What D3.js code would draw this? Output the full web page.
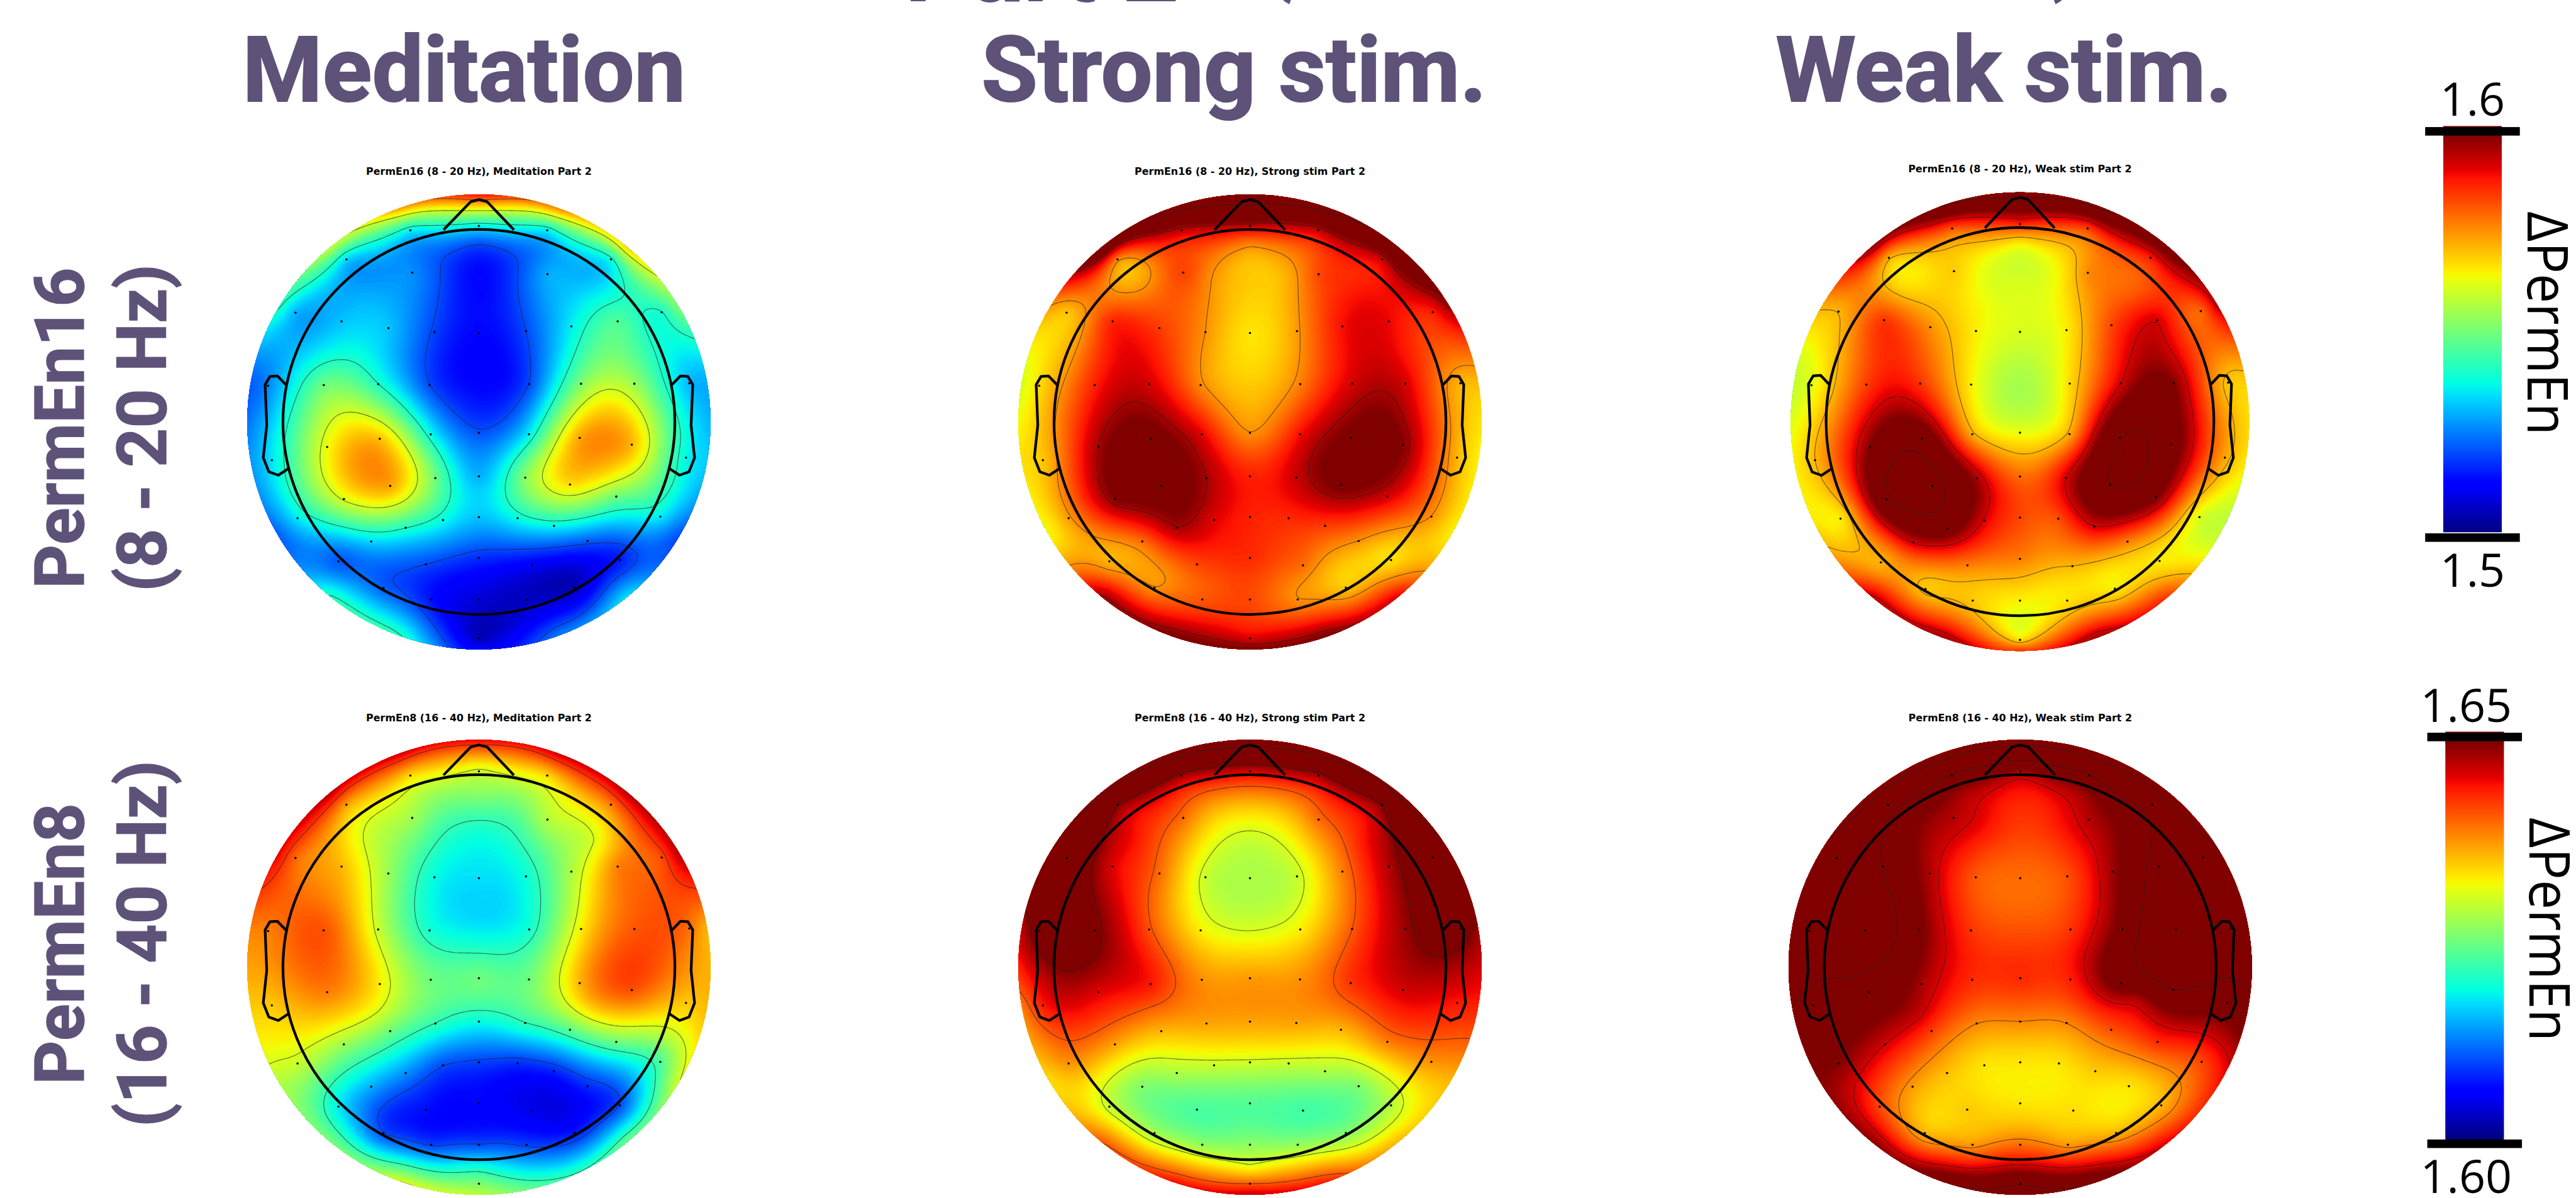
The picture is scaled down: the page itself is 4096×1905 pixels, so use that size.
<!DOCTYPE html>
<html>
<head>
<meta charset="utf-8">
<script src="https://cdn.jsdelivr.net/npm/d3@7"></script>
<style>
  html, body { margin: 0; padding: 0; background: #fff; overflow: hidden; }
  svg { display: block; }
</style>
</head>
<body>
<div id="chart"></div>
<script>
// Electrode positions, in head units (-1..1 across the painted disc)
const electrodeX = [-0.296,0,0.295,-0.572,-0.288,0.296,0.570,-0.792,-0.593,-0.391,-0.192,0,0.203,0.399,0.599,0.789,
  -0.910,-0.670,-0.435,-0.213,0.217,0.441,0.671,0.908,-0.428,-0.655,-0.208,0,0.216,0.435,0.660,-0.894,0.894,
  -0.188,0,0.200,-0.383,0.393,-0.583,0.593,-0.783,-0.155,0,0.167,0.783,-0.316,0.324,-0.465,0.469,-0.607,0.609,
  -0.229,0,0.229,-0.412,0.414,-0.206,0,0.206,0];
const electrodeY = [0.842,0.861,0.842,0.714,0.656,0.649,0.714,0.480,0.442,0.412,0.395,0.391,0.399,0.420,0.442,0.482,
  0.159,0.162,0.166,0.162,0.166,0.168,0.168,0.170,-0.074,-0.110,-0.055,-0.048,-0.054,-0.070,-0.100,-0.168,-0.157,
  -0.247,-0.239,-0.245,-0.281,-0.275,-0.339,-0.328,-0.423,-0.431,-0.418,-0.423,-0.416,-0.465,-0.457,-0.525,-0.523,-0.613,-0.607,
  -0.626,-0.598,-0.630,-0.729,-0.728,-0.780,-0.780,-0.780,-0.951];

// Values on the rim of the disc, clockwise from the nose
const rimAngles = [0,20,40,60,80,100,120,140,160,180,200,220,240,260,280,300,320,340];

// Extra read-off spots where no electrode sits (front midline, lobe centres)
const spotX = [0, 0, -0.18, 0.18, -0.44, 0.49, 0, -0.5, 0.5, 0];
const spotY = [0.78, 0.60, 0.64, 0.64, -0.2, -0.14, -0.87, 0.56, 0.56, 0.16];

// PermEn16 (8 - 20 Hz), colour range 1.5 - 1.6
const permEn16Meditation = [1.536,1.537,1.536,1.533,1.527,1.530,1.538,1.530,1.532,1.532,1.519,1.513,1.520,1.536,1.547,1.540,
  1.526,1.550,1.541,1.520,1.520,1.552,1.555,1.531,1.571,1.564,1.538,1.521,1.536,1.574,1.572,1.535,1.537,
  1.550,1.530,1.553,1.574,1.568,1.562,1.550,1.536,1.538,1.532,1.538,1.536,1.541,1.537,1.534,1.522,1.521,1.515,
  1.520,1.517,1.511,1.522,1.505,1.514,1.508,1.506,1.505];
const permEn16MeditationRim = [1.590,1.578,1.570,1.552,1.530,1.533,1.520,1.535,1.525,1.512,1.542,1.542,1.522,1.528,1.522,1.542,1.560,1.575];
const permEn16MeditationSpots = [1.520,1.513,1.521,1.521,1.577,1.576,1.506,1.530,1.536,1.513];

const permEn16Strong = [1.594,1.595,1.594,1.576,1.585,1.584,1.593,1.570,1.588,1.585,1.576,1.567,1.575,1.590,1.591,1.588,
  1.568,1.588,1.593,1.577,1.578,1.593,1.593,1.572,1.603,1.597,1.592,1.576,1.590,1.602,1.600,1.570,1.572,
  1.597,1.588,1.594,1.604,1.602,1.600,1.593,1.575,1.592,1.588,1.587,1.576,1.597,1.585,1.580,1.576,1.572,1.567,
  1.584,1.587,1.580,1.576,1.570,1.582,1.584,1.576,1.592];
const permEn16StrongRim = [1.630,1.625,1.618,1.598,1.572,1.566,1.566,1.592,1.602,1.602,1.602,1.598,1.565,1.568,1.562,1.575,1.615,1.625];
const permEn16StrongSpots = [1.577,1.570,1.577,1.574,1.605,1.604,1.586,1.577,1.590,1.570];

const permEn16Weak = [1.582,1.588,1.584,1.572,1.570,1.577,1.588,1.572,1.586,1.576,1.566,1.562,1.566,1.584,1.593,1.580,
  1.563,1.585,1.586,1.566,1.568,1.593,1.600,1.570,1.608,1.600,1.573,1.564,1.573,1.614,1.606,1.572,1.574,
  1.597,1.580,1.593,1.618,1.614,1.612,1.602,1.566,1.592,1.584,1.583,1.562,1.605,1.593,1.594,1.578,1.572,1.566,
  1.578,1.578,1.572,1.570,1.566,1.570,1.566,1.567,1.566];
const permEn16WeakRim = [1.620,1.618,1.608,1.595,1.570,1.567,1.560,1.586,1.598,1.588,1.598,1.595,1.570,1.566,1.560,1.573,1.600,1.615];
const permEn16WeakSpots = [1.566,1.562,1.564,1.566,1.618,1.616,1.563,1.570,1.582,1.556];

// PermEn8 (16 - 40 Hz), colour range 1.60 - 1.65
const permEn8Meditation = [1.634,1.630,1.634,1.637,1.628,1.629,1.639,1.640,1.636,1.6275,1.619,1.6175,1.6195,1.6285,1.639,1.6415,
  1.639,1.6415,1.630,1.620,1.620,1.633,1.641,1.640,1.633,1.639,1.625,1.625,1.625,1.636,1.6415,1.635,1.635,
  1.6215,1.619,1.6215,1.625,1.624,1.6275,1.625,1.630,1.610,1.6095,1.6085,1.623,1.6135,1.608,1.615,1.6085,1.618,1.610,
  1.607,1.6065,1.605,1.610,1.6075,1.6095,1.610,1.6095,1.626];
const permEn8MeditationRim = [1.646,1.647,1.648,1.648,1.636,1.636,1.631,1.625,1.6225,1.629,1.631,1.626,1.629,1.635,1.639,1.646,1.648,1.647];
const permEn8MeditationSpots = [1.6275,1.620,1.6235,1.6235,1.631,1.637,1.619,1.631,1.631,1.618];

const permEn8Strong = [1.6485,1.6465,1.6485,1.650,1.640,1.640,1.650,1.655,1.646,1.640,1.630,1.6285,1.630,1.639,1.648,1.656,
  1.6525,1.651,1.6415,1.633,1.633,1.641,1.649,1.6525,1.6445,1.646,1.638,1.6375,1.638,1.643,1.6465,1.6445,1.6445,
  1.637,1.637,1.637,1.636,1.636,1.637,1.639,1.638,1.630,1.6305,1.630,1.638,1.6285,1.6285,1.626,1.626,1.630,1.629,
  1.623,1.6235,1.6225,1.628,1.626,1.627,1.627,1.627,1.641];
const permEn8StrongRim = [1.665,1.664,1.6625,1.6585,1.649,1.644,1.636,1.636,1.644,1.6475,1.645,1.641,1.634,1.639,1.6475,1.656,1.6625,1.664];
const permEn8StrongSpots = [1.640,1.631,1.635,1.635,1.640,1.6425,1.631,1.645,1.645,1.631];

const permEn8Weak = [1.654,1.6485,1.654,1.6575,1.648,1.648,1.658,1.660,1.655,1.648,1.641,1.640,1.6415,1.649,1.657,1.661,
  1.657,1.659,1.651,1.643,1.643,1.6515,1.660,1.6575,1.6485,1.653,1.6435,1.6435,1.644,1.6525,1.655,1.654,1.652,
  1.6385,1.6385,1.6385,1.6425,1.6415,1.6465,1.6435,1.650,1.6335,1.6335,1.6335,1.642,1.6355,1.635,1.6375,1.6335,1.642,1.636,
  1.635,1.6335,1.634,1.636,1.636,1.6375,1.640,1.6375,1.655];
const permEn8WeakRim = [1.670,1.670,1.669,1.665,1.658,1.654,1.645,1.646,1.654,1.6575,1.654,1.650,1.650,1.655,1.660,1.664,1.669,1.670];
const permEn8WeakSpots = [1.645,1.6425,1.646,1.645,1.6475,1.6475,1.6465,1.6515,1.6525,1.6415];

// Labels
const columnNames = ['Meditation', 'Strong stim.', 'Weak stim.'];
const rowLines = [['PermEn16', '(8 - 20 Hz)'], ['PermEn8', '(16 - 40 Hz)']];
const panelTitles = [
  'PermEn16 (8 - 20 Hz), Meditation Part 2', 'PermEn16 (8 - 20 Hz), Strong stim Part 2', 'PermEn16 (8 - 20 Hz), Weak stim Part 2',
  'PermEn8 (16 - 40 Hz), Meditation Part 2', 'PermEn8 (16 - 40 Hz), Strong stim Part 2', 'PermEn8 (16 - 40 Hz), Weak stim Part 2'
];
const colorbarTicks = [['1.6', '1.5'], ['1.65', '1.60']];
const colorRanges = [[1.5, 1.6], [1.60, 1.65]];

// Contour levels drawn on each map
const levels = [
  [1.520, 1.541, 1.561, 1.580],
  [1.576, 1.597, 1.618],
  [1.572, 1.593, 1.614],
  [1.610, 1.6215, 1.631, 1.643],
  [1.631, 1.641, 1.650, 1.660],
  [1.6385, 1.6465, 1.655, 1.665]
];

// Head outline, same units as the electrodes
const noseX = [-0.153, -0.035, 0, 0.035, 0.151];
const noseY = [0.844, 0.968, 0.977, 0.968, 0.844];
const earX = [-0.834, -0.870, -0.902, -0.923, -0.916, -0.931, -0.907, -0.866, -0.824];
const earY = [0.164, 0.202, 0.200, 0.164, -0.014, -0.157, -0.219, -0.234, -0.206];
const headRadius = 0.846;

// Matplotlib jet
const jetStops = [0, 0.11, 0.125, 0.34, 0.35, 0.375, 0.64, 0.65, 0.66, 0.89, 0.91, 1];
const jetColors = ['rgb(0,0,128)', 'rgb(0,0,255)', 'rgb(0,0,255)', 'rgb(0,219,255)', 'rgb(0,230,247)', 'rgb(0,255,226)',
  'rgb(238,255,8)', 'rgb(247,246,0)', 'rgb(255,236,0)', 'rgb(255,19,0)', 'rgb(232,0,0)', 'rgb(128,0,0)'];
const jet = d3.scaleLinear().domain(jetStops).range(jetColors).clamp(true);

// Drawn in reference pixels, the viewBox brings it down to the window
const WIDTH = 4843, HEIGHT = 2253;
const TITLE_COLOR = '#5e5279';
const svg = d3.select('#chart').append('svg')
  .attr('width', 4096)
  .attr('height', 1905)
  .attr('viewBox', `0 0 ${WIDTH} ${HEIGHT}`);

const panels = [
  { values: permEn16Meditation, rim: permEn16MeditationRim, spots: permEn16MeditationSpots, row: 0, cx: 900, cy: 793.5, rx: 435.6, ry: 428, titleY: 329 },
  { values: permEn16Strong, rim: permEn16StrongRim, spots: permEn16StrongSpots, row: 0, cx: 2350, cy: 793.5, rx: 435.6, ry: 428, titleY: 329 },
  { values: permEn16Weak, rim: permEn16WeakRim, spots: permEn16WeakSpots, row: 0, cx: 3798, cy: 793, rx: 431, ry: 431.5, titleY: 324 },
  { values: permEn8Meditation, rim: permEn8MeditationRim, spots: permEn8MeditationSpots, row: 1, cx: 900, cy: 1819, rx: 435.6, ry: 428, titleY: 1356 },
  { values: permEn8Strong, rim: permEn8StrongRim, spots: permEn8StrongSpots, row: 1, cx: 2350, cy: 1819, rx: 435.6, ry: 428, titleY: 1356 },
  { values: permEn8Weak, rim: permEn8WeakRim, spots: permEn8WeakSpots, row: 1, cx: 3798.5, cy: 1819, rx: 435.6, ry: 428, titleY: 1356 }
];

// Thin plate spline through the read values, solved once per map
const rimX = rimAngles.map(a => Math.sin(a * Math.PI / 180));
const rimY = rimAngles.map(a => Math.cos(a * Math.PI / 180));
const nodeX = electrodeX.concat(rimX, spotX);
const nodeY = electrodeY.concat(rimY, spotY);
const SMOOTHING = 0.0015;

function kernel(r2) {
  return r2 > 1e-12 ? 0.5 * r2 * Math.log(r2) : 0;
}

function solve(A, b) {
  const n = b.length;
  for (let i = 0; i < n; i++) {
    let p = i;
    for (let k = i + 1; k < n; k++) if (Math.abs(A[k][i]) > Math.abs(A[p][i])) p = k;
    [A[i], A[p]] = [A[p], A[i]];
    [b[i], b[p]] = [b[p], b[i]];
    for (let k = i + 1; k < n; k++) {
      const f = A[k][i] / A[i][i];
      if (f === 0) continue;
      for (let j = i; j < n; j++) A[k][j] -= f * A[i][j];
      b[k] -= f * b[i];
    }
  }
  for (let i = n - 1; i >= 0; i--) {
    for (let j = i + 1; j < n; j++) b[i] -= A[i][j] * b[j];
    b[i] /= A[i][i];
  }
  return b;
}

function fitField(values) {
  const n = nodeX.length;
  const A = d3.range(n + 3).map(() => new Array(n + 3).fill(0));
  for (let i = 0; i < n; i++) {
    for (let j = 0; j < n; j++) {
      const dx = nodeX[i] - nodeX[j], dy = nodeY[i] - nodeY[j];
      A[i][j] = kernel(dx * dx + dy * dy);
    }
    A[i][i] = SMOOTHING;
    A[i][n] = A[n][i] = 1;
    A[i][n + 1] = A[n + 1][i] = nodeX[i];
    A[i][n + 2] = A[n + 2][i] = nodeY[i];
  }
  return solve(A, values.concat([0, 0, 0]));
}

const GRID = 220;
const gridCoord = d3.scaleLinear().domain([0, GRID - 1]).range([-1.03, 1.03]);

function fieldGrid(w) {
  const n = nodeX.length;
  const grid = new Float64Array(GRID * GRID);
  for (let gy = 0; gy < GRID; gy++) {
    const y = -gridCoord(gy);
    for (let gx = 0; gx < GRID; gx++) {
      const x = gridCoord(gx);
      let v = w[n] + w[n + 1] * x + w[n + 2] * y;
      for (let i = 0; i < n; i++) {
        const dx = x - nodeX[i], dy = y - nodeY[i];
        v += w[i] * kernel(dx * dx + dy * dy);
      }
      grid[gy * GRID + gx] = v;
    }
  }
  return grid;
}

const contours = d3.contours().size([GRID, GRID]).smooth(true);

panels.forEach((p, idx) => {
  const [lo, hi] = colorRanges[p.row];
  const colorOf = d3.scaleLinear().domain([lo, hi]).range([0, 1]).clamp(true);
  const x = d3.scaleLinear().domain([-1, 1]).range([p.cx - p.rx, p.cx + p.rx]);
  const y = d3.scaleLinear().domain([-1, 1]).range([p.cy + p.ry, p.cy - p.ry]);

  const grid = fieldGrid(fitField(p.values.concat(p.rim, p.spots)));

  // contour coordinates carry a half cell offset
  const path = d3.geoPath(d3.geoTransform({
    point(px, py) {
      this.stream.point(x(gridCoord(px - 0.5)), y(-gridCoord(py - 0.5)));
    }
  }));

  const g = svg.append('g').attr('class', 'panel');
  const clipId = `disc-${idx}`;
  g.append('clipPath').attr('id', clipId)
    .append('ellipse')
    .attr('cx', p.cx).attr('cy', p.cy).attr('rx', p.rx).attr('ry', p.ry);

  const map = g.append('g').attr('clip-path', `url(#${clipId})`);
  map.append('ellipse')
    .attr('cx', p.cx).attr('cy', p.cy).attr('rx', p.rx).attr('ry', p.ry)
    .attr('fill', jet(0));

  map.selectAll('path.fill')
    .data(contours.thresholds(d3.range(0, 181).map(i => lo + (hi - lo) * i / 180))(grid))
    .enter().append('path')
    .attr('class', 'fill')
    .attr('d', path)
    .attr('fill', d => jet(colorOf(d.value)));

  map.selectAll('path.level')
    .data(contours.thresholds(levels[idx])(grid))
    .enter().append('path')
    .attr('class', 'level')
    .attr('d', path)
    .attr('fill', 'none')
    .attr('stroke', '#222')
    .attr('stroke-opacity', 0.65)
    .attr('stroke-width', 1.3);

  // Electrodes
  g.selectAll('circle.electrode')
    .data(electrodeX.map((ex, i) => [ex, electrodeY[i]]))
    .enter().append('circle')
    .attr('class', 'electrode')
    .attr('cx', d => x(d[0]))
    .attr('cy', d => y(d[1]))
    .attr('r', 2.1)
    .attr('fill', '#000');

  // Head, nose and ears
  const outline = d3.line().x(d => x(d[0])).y(d => y(d[1]));
  const head = g.append('g')
    .attr('fill', 'none')
    .attr('stroke', '#000')
    .attr('stroke-width', 5)
    .attr('stroke-linejoin', 'round');
  head.append('ellipse')
    .attr('cx', x(0)).attr('cy', y(0))
    .attr('rx', x(headRadius) - x(0))
    .attr('ry', y(0) - y(headRadius));
  head.append('path').attr('d', outline(noseX.map((n, i) => [n, noseY[i]])));
  head.append('path').attr('d', outline(earX.map((n, i) => [n, earY[i]])));
  head.append('path').attr('d', outline(earX.map((n, i) => [-n, earY[i]])));

  // Small matplotlib title
  g.append('text')
    .attr('x', p.cx)
    .attr('y', p.titleY)
    .attr('text-anchor', 'middle')
    .style('font-family', '"DejaVu Sans"')
    .style('font-weight', 'bold')
    .style('font-size', '18.85px')
    .text(panelTitles[idx]);
});

// Column headings
const columnCenters = [872, 2320, 3768];
svg.selectAll('text.column')
  .data(columnNames)
  .enter().append('text')
  .attr('class', 'column')
  .attr('x', (d, i) => columnCenters[i])
  .attr('y', 190)
  .attr('text-anchor', 'middle')
  .style('font-family', 'Roboto')
  .style('font-weight', 'bold')
  .style('font-size', '172px')
  .style('fill', TITLE_COLOR)
  .style('stroke', TITLE_COLOR)
  .style('stroke-width', '2.5px')
  .text(d => d);

// Bottom edge of the main title, cut off by the top of the picture
const cutTitle = svg.append('g')
  .style('font-family', 'Roboto')
  .style('font-weight', 'bold')
  .style('fill', TITLE_COLOR);
cutTitle.append('text').attr('x', 1700).attr('y', 2).style('font-size', '190px').text('Part 2');
cutTitle.append('text').attr('x', 2432).attr('y', -30).attr('text-anchor', 'end').style('font-size', '170px').text('(');
cutTitle.append('text').attr('x', 3857).attr('y', -30).style('font-size', '170px').text(')');

// Row headings, rotated
const rowCenters = [805, 1775];
const rowBaselines = [157, 312];
rowLines.forEach((lines, r) => {
  lines.forEach((line, l) => {
    svg.append('text')
      .attr('class', 'row-label')
      .attr('transform', `translate(${rowBaselines[l]},${rowCenters[r]}) rotate(-90)`)
      .attr('text-anchor', 'middle')
      .style('font-family', 'Roboto')
      .style('font-weight', 'bold')
      .style('font-size', '129px')
      .style('fill', TITLE_COLOR)
      .style('stroke', TITLE_COLOR)
      .style('stroke-width', '1.5px')
      .text(line);
  });
});

// Colour bars
const bars = [
  { x: 4594, capX: 4560, top: 253, bottom: 999, capTop: 239, capBottom: 1003, topLabel: 218, bottomLabel: 1103, labelX: 4649, nameX: 4752, nameY: 608 },
  { x: 4598, capX: 4564, top: 1397, bottom: 2141, capTop: 1378, capBottom: 2143, topLabel: 1358, bottomLabel: 2243, labelX: 4637, nameX: 4756, nameY: 1748 }
];
const BAR_W = 110, CAP_W = 178, CAP_H = 16;

bars.forEach((b, r) => {
  const [lo, hi] = colorRanges[r];
  const y = d3.scaleLinear().domain([lo, hi]).range([b.bottom, b.top]);
  const colorOf = d3.scaleLinear().domain([lo, hi]).range([0, 1]);
  const steps = d3.range(0, 257).map(i => lo + (hi - lo) * i / 256);
  const g = svg.append('g').attr('class', 'colorbar');

  g.append('rect')
    .attr('x', b.x).attr('width', BAR_W)
    .attr('y', b.capTop - 2).attr('height', b.top - b.capTop + 3)
    .attr('fill', jet(1));
  g.selectAll('rect.step')
    .data(steps)
    .enter().append('rect')
    .attr('class', 'step')
    .attr('x', b.x)
    .attr('width', BAR_W)
    .attr('y', d => y(d) - 2)
    .attr('height', 4)
    .attr('fill', d => jet(colorOf(d)));

  [b.capTop, b.capBottom].forEach(cy => {
    g.append('rect')
      .attr('x', b.capX).attr('y', cy)
      .attr('width', CAP_W).attr('height', CAP_H)
      .attr('fill', '#000');
  });

  [[colorbarTicks[r][0], b.topLabel], [colorbarTicks[r][1], b.bottomLabel]].forEach(([t, ty]) => {
    g.append('text')
      .attr('x', b.labelX).attr('y', ty)
      .attr('text-anchor', 'middle')
      .style('font-family', '"Open Sans"')
      .style('font-size', '87px')
      .text(t);
  });

  g.append('text')
    .attr('transform', `translate(${b.nameX},${b.nameY}) rotate(90)`)
    .attr('text-anchor', 'middle')
    .attr('textLength', 421)
    .attr('lengthAdjust', 'spacingAndGlyphs')
    .style('font-family', '"Open Sans"')
    .style('font-size', '107px')
    .text('ΔPermEn');
});
</script>
</body>
</html>
